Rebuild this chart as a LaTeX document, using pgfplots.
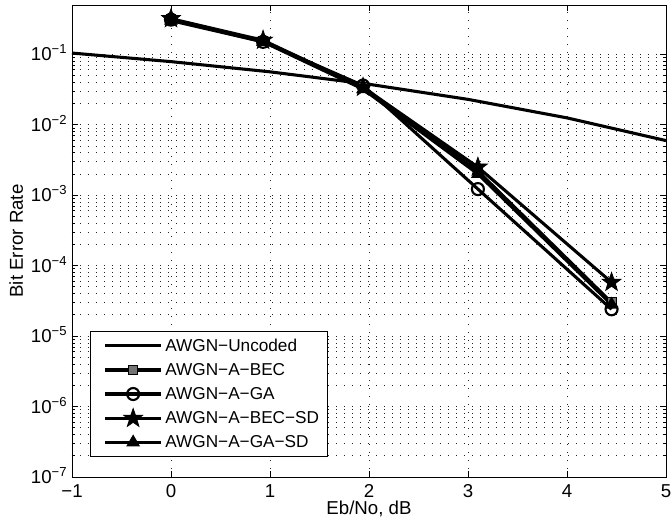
\documentclass[border=0pt]{standalone}
\usepackage{pgfplots}
\pgfplotsset{compat=1.18}
\usepackage{fontspec}
\setmainfont{Liberation Sans}
\usetikzlibrary{plotmarks}
\pgfdeclareplotmark{fstar}{%
  \pgfpathmoveto{\pgfqpointpolar{90}{1.25\pgfplotmarksize}}%
  \pgfpathlineto{\pgfqpointpolar{126}{0.5\pgfplotmarksize}}%
  \pgfpathlineto{\pgfqpointpolar{162}{1.25\pgfplotmarksize}}%
  \pgfpathlineto{\pgfqpointpolar{198}{0.5\pgfplotmarksize}}%
  \pgfpathlineto{\pgfqpointpolar{234}{1.25\pgfplotmarksize}}%
  \pgfpathlineto{\pgfqpointpolar{270}{0.5\pgfplotmarksize}}%
  \pgfpathlineto{\pgfqpointpolar{306}{1.25\pgfplotmarksize}}%
  \pgfpathlineto{\pgfqpointpolar{342}{0.5\pgfplotmarksize}}%
  \pgfpathlineto{\pgfqpointpolar{18}{1.25\pgfplotmarksize}}%
  \pgfpathlineto{\pgfqpointpolar{54}{0.5\pgfplotmarksize}}%
  \pgfpathclose
  \pgfusepathqfillstroke
}
\begin{document}
\begin{tikzpicture}
\begin{axis}[
  name=ax,
  scale only axis,
  width=445.5pt, height=354pt,
  xmin=-1, xmax=5,
  ymode=log, ymin=1e-7, ymax=0.5,
  xtick={-1,0,1,2,3,4,5},
  xticklabels={−1,0,1,2,3,4,5},
  ytick={1e-7,1e-6,1e-5,1e-4,1e-3,1e-2,1e-1},
  yticklabels={10\textsuperscript{−7},10\textsuperscript{−6},10\textsuperscript{−5},10\textsuperscript{−4},10\textsuperscript{−3},10\textsuperscript{−2},10\textsuperscript{−1}},
  tick align=inside,
  tick pos=both,
  major tick length=4.5pt,
  minor tick length=2.5pt,
  grid=both,
  major grid style={black!85, dash pattern=on 0.7pt off 5.3pt, line width=0.6pt},
  minor grid style={black!85, dash pattern=on 0.7pt off 5.3pt, line width=0.6pt},
  axis line style={line width=0.7pt},
  every tick/.style={black, line width=0.6pt},
  tick label style={font=\fontsize{14}{16}\selectfont},
  xticklabel style={yshift=-2pt},
  yticklabel style={yshift=1pt},
  label style={font=\fontsize{14}{16}\selectfont},
  xlabel={Eb/No, dB},
  ylabel={Bit Error Rate},
  xlabel style={yshift=4pt},
  ylabel style={yshift=-1pt},
  legend style={at={(0.03,0.042)}, anchor=south west, draw=black, line width=0.7pt,
    font=\fontsize{12.9}{15}\selectfont, row sep=3.5pt, inner xsep=4pt, inner ysep=3.5pt},
  legend cell align=left,
  legend image code/.code={
    \path (0pt,0pt);
    \draw[#1, mark repeat=2, mark phase=2] plot coordinates {(6pt,0pt) (27pt,0pt) (48pt,0pt)};
  },
]
\addplot[black, line width=2.3pt, mark=none] coordinates {
  (-1,0.104) (0,0.0786) (1,0.0563) (2,0.0375) (3,0.0229) (4,0.0125) (5,0.00595)
};
\addlegendentry{AWGN−Uncoded}
\addplot[black, line width=2.3pt, mark=square*, mark size=3.5pt, mark options={fill=black!55, line width=1pt}] coordinates {
  (0,0.31) (0.93,0.155) (1.94,0.034) (3.1,0.0022) (4.45,3.0e-5)
};
\addlegendentry{AWGN−A−BEC}
\addplot[black, line width=2.3pt, mark=o, mark size=4.5pt, mark options={line width=1.6pt}] coordinates {
  (0,0.31) (0.93,0.15) (1.94,0.036) (3.1,0.00122) (4.45,2.4e-5)
};
\addlegendentry{AWGN−A−GA}
\addplot[black, line width=2.3pt, mark=fstar, mark size=6pt, mark options={fill=black, line width=0.5pt}] coordinates {
  (0,0.32) (0.93,0.158) (1.94,0.034) (3.1,0.0025) (4.45,5.8e-5)
};
\addlegendentry{AWGN−A−BEC−SD}
\addplot[black, line width=2.3pt, mark=triangle*, mark size=5pt, mark options={fill=black, line width=1pt}] coordinates {
  (0,0.30) (0.93,0.15) (1.94,0.032) (3.1,0.0020) (4.45,2.8e-5)
};
\addlegendentry{AWGN−A−GA−SD}
\end{axis}
\pgfresetboundingbox
\path[use as bounding box] ([xshift=-54pt,yshift=-36pt]ax.south west) rectangle ([xshift=4.5pt,yshift=3.75pt]ax.north east);
\end{tikzpicture}
\end{document}
